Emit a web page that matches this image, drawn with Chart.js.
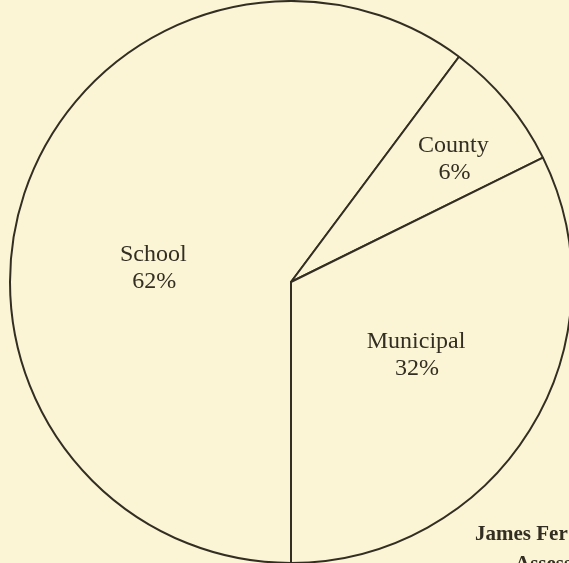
<!DOCTYPE html>
<html>
<head>
<meta charset="utf-8">
<script src="https://cdn.jsdelivr.net/npm/chart.js@4/dist/chart.umd.min.js"></script>
<style>
  html, body { margin: 0; padding: 0; background: #fbf5d6; overflow: hidden; width: 569px; height: 563px; }
  #wrap { position: absolute; left: 0; top: 0; width: 582px; height: 564px; }
  #note { position: absolute; left: 475px; top: 518px; font: bold 21px "Liberation Serif", serif; color: #332e22; line-height: 30px; white-space: nowrap; }
  #note div + div { padding-left: 40px; }
</style>
</head>
<body>
<div id="wrap"><canvas id="pie" width="582" height="564"></canvas></div>
<div id="note"><div>James Fer</div><div>Assess</div></div>
<script>
const categories = ['School', 'County', 'Municipal'];
// slice sizes as drawn in the picture (degrees of arc / 3.6)
const shares = [60.2, 7.5, 32.3];
const shareLabels = ['62%', '6%', '32%'];

// where each label block sits, as a fraction of the radius from the centre
const labelSpots = [[-0.49, -0.05], [0.578, -0.44], [0.445, 0.258]];

const ink = '#332e22';

const sliceLabels = {
  id: 'sliceLabels',
  afterDatasetsDraw(chart) {
    const arc = chart.getDatasetMeta(0).data[0];
    const ctx = chart.ctx;
    ctx.save();
    ctx.fillStyle = ink;
    ctx.font = '24px "Liberation Serif", serif';
    ctx.textAlign = 'center';
    ctx.textBaseline = 'middle';
    categories.forEach((name, i) => {
      const x = arc.x + labelSpots[i][0] * arc.outerRadius;
      const y = arc.y + labelSpots[i][1] * arc.outerRadius;
      ctx.fillText(name, x, y - 13);
      ctx.fillText(shareLabels[i], x + 1, y + 14);
    });
    ctx.restore();
  }
};

new Chart(document.getElementById('pie'), {
  type: 'pie',
  data: {
    labels: categories,
    datasets: [{
      data: shares,
      backgroundColor: '#fbf5d6',
      borderColor: ink,
      borderWidth: 2
    }]
  },
  options: {
    responsive: false,
    animation: false,
    rotation: 180,
    layout: { padding: 0 },
    plugins: { legend: { display: false }, tooltip: { enabled: false } }
  },
  plugins: [sliceLabels]
});
</script>
</body>
</html>
